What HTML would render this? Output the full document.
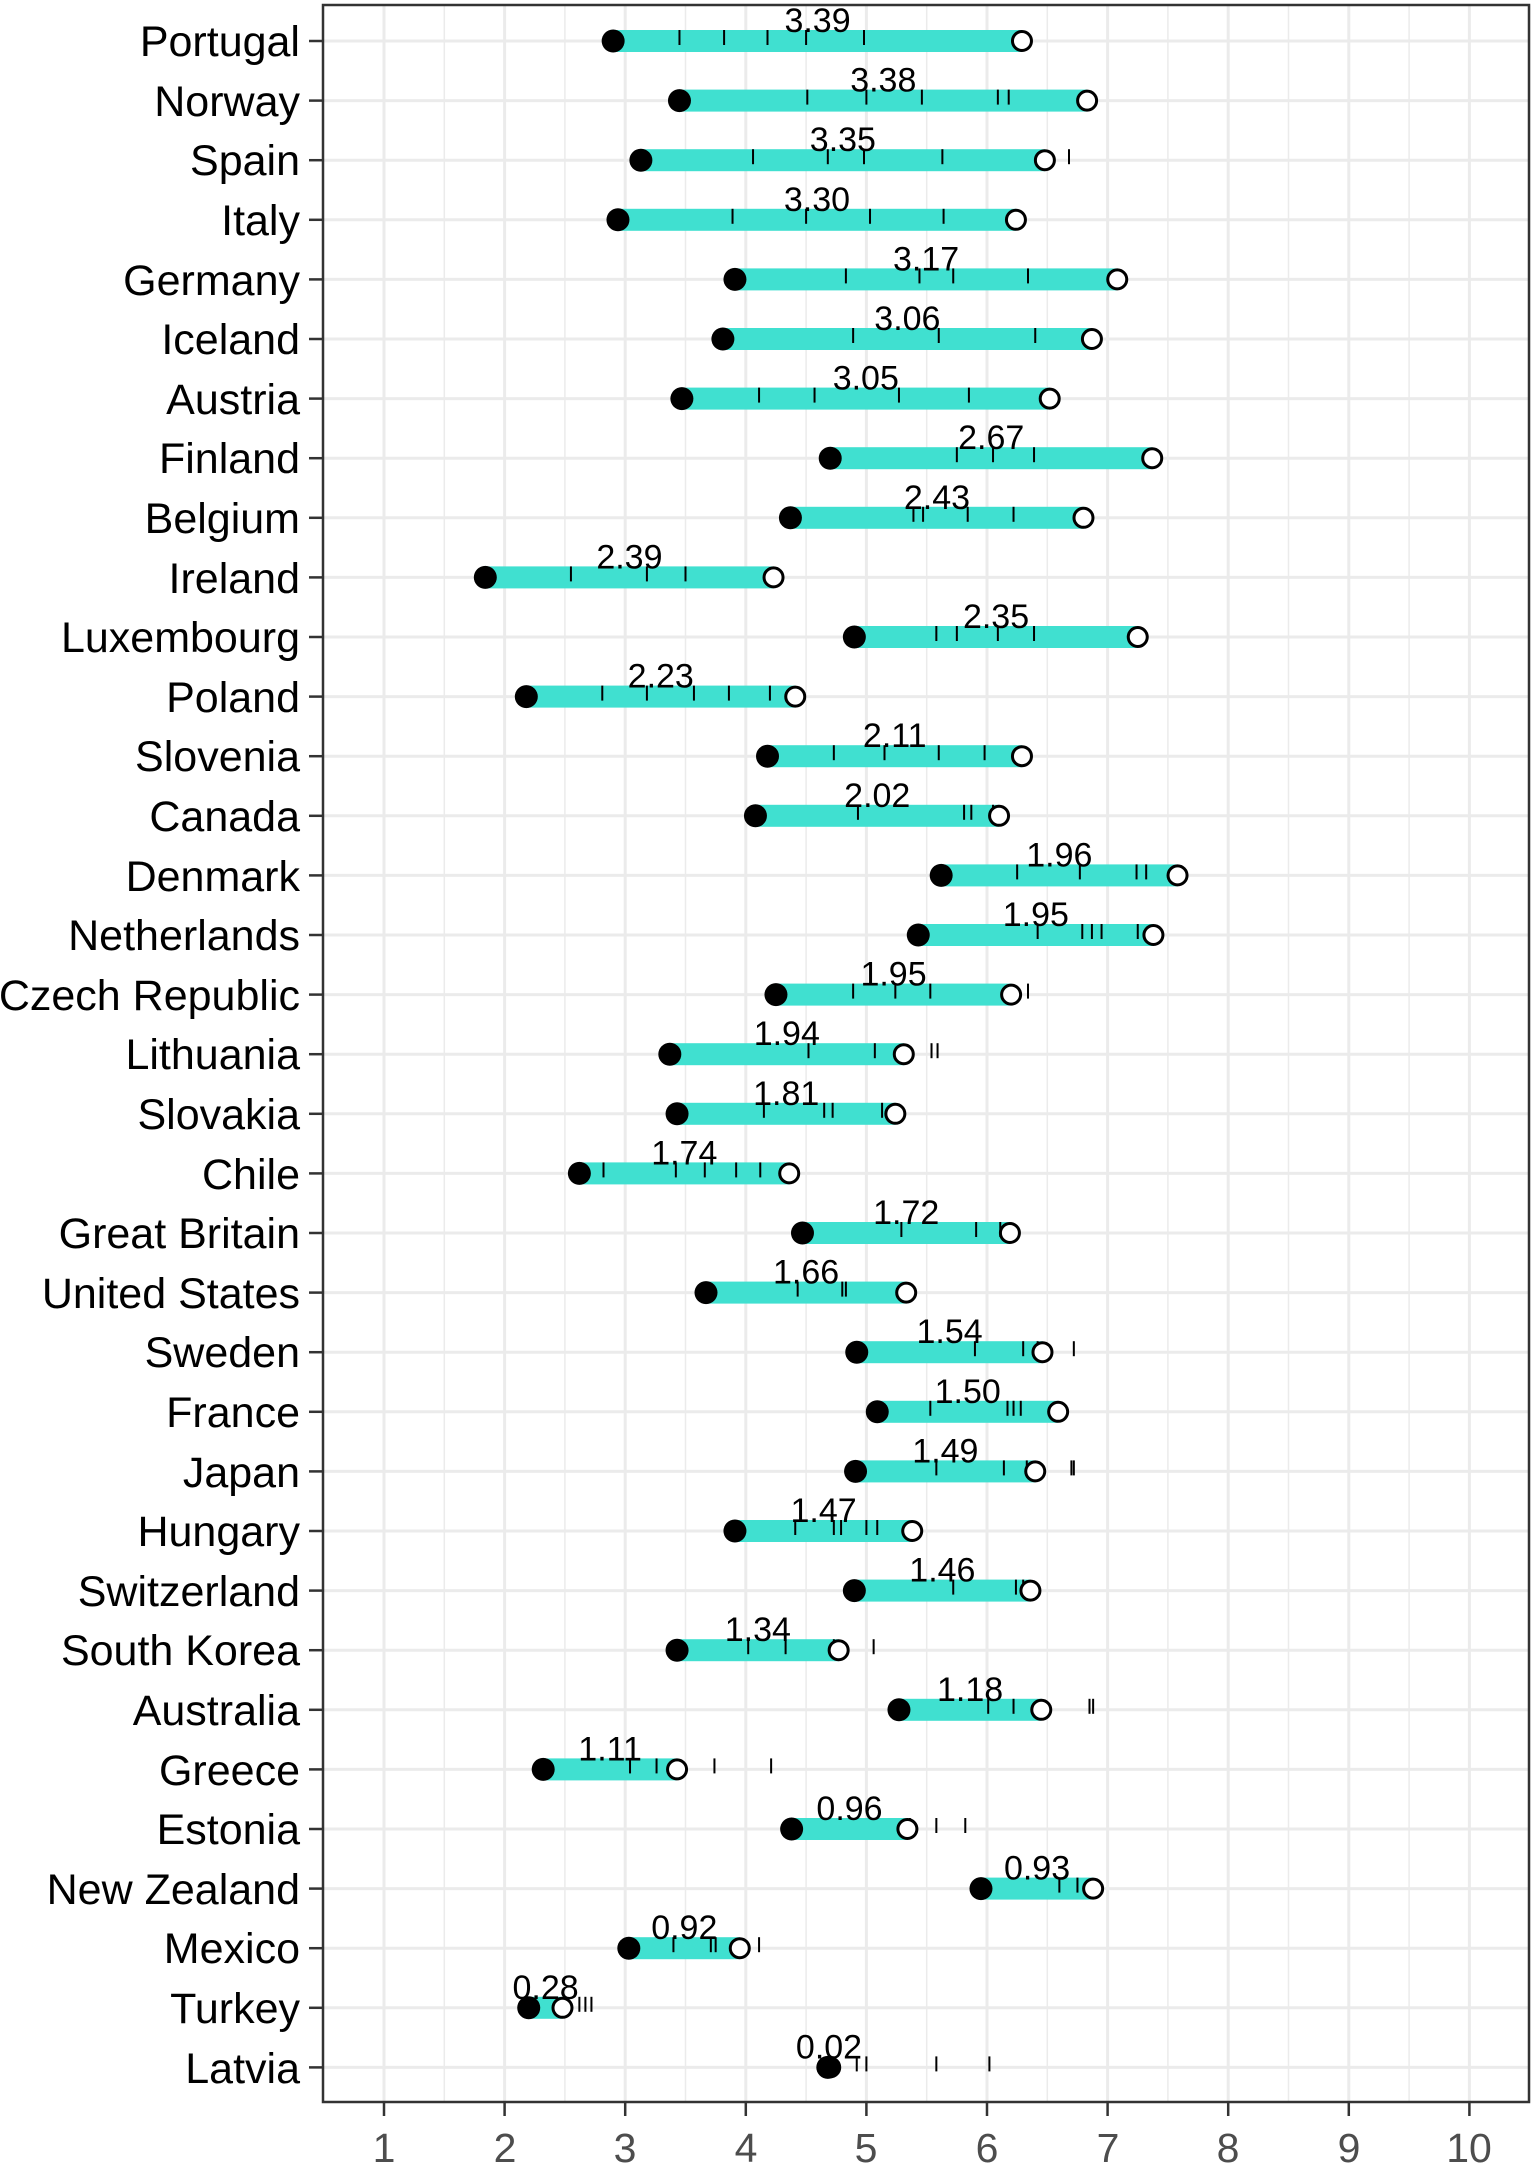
<!DOCTYPE html>
<html><head><meta charset="utf-8"><style>
html,body{margin:0;padding:0;background:#fff}
svg{display:block}
text{font-family:"Liberation Sans",Arial,sans-serif}
</style></head><body>
<svg id="s" width="1535" height="2167" xmlns="http://www.w3.org/2000/svg">
<rect width="1535" height="2167" fill="#fff"/>
<g id="grid"></g>
<g id="data"></g>
<rect x="323" y="5" width="1206" height="2097" fill="none" stroke="#333" stroke-width="2.5"/>
<g id="ticks"></g>
<g font-size="43" fill="#000" text-anchor="end">
<text x="300" y="56">Portugal</text>
<text x="300" y="116">Norway</text>
<text x="300" y="175">Spain</text>
<text x="300" y="235">Italy</text>
<text x="300" y="295">Germany</text>
<text x="300" y="354">Iceland</text>
<text x="300" y="414">Austria</text>
<text x="300" y="473">Finland</text>
<text x="300" y="533">Belgium</text>
<text x="300" y="593">Ireland</text>
<text x="300" y="652">Luxembourg</text>
<text x="300" y="712">Poland</text>
<text x="300" y="771">Slovenia</text>
<text x="300" y="831">Canada</text>
<text x="300" y="891">Denmark</text>
<text x="300" y="950">Netherlands</text>
<text x="300" y="1010">Czech Republic</text>
<text x="300" y="1069">Lithuania</text>
<text x="300" y="1129">Slovakia</text>
<text x="300" y="1189">Chile</text>
<text x="300" y="1248">Great Britain</text>
<text x="300" y="1308">United States</text>
<text x="300" y="1367">Sweden</text>
<text x="300" y="1427">France</text>
<text x="300" y="1487">Japan</text>
<text x="300" y="1546">Hungary</text>
<text x="300" y="1606">Switzerland</text>
<text x="300" y="1665">South Korea</text>
<text x="300" y="1725">Australia</text>
<text x="300" y="1785">Greece</text>
<text x="300" y="1844">Estonia</text>
<text x="300" y="1904">New Zealand</text>
<text x="300" y="1963">Mexico</text>
<text x="300" y="2023">Turkey</text>
<text x="300" y="2083">Latvia</text>
</g>
<g font-size="41" fill="#4d4d4d" text-anchor="middle">
<text x="384" y="2162">1</text>
<text x="505" y="2162">2</text>
<text x="625" y="2162">3</text>
<text x="746" y="2162">4</text>
<text x="866" y="2162">5</text>
<text x="987" y="2162">6</text>
<text x="1108" y="2162">7</text>
<text x="1228" y="2162">8</text>
<text x="1349" y="2162">9</text>
<text x="1469" y="2162">10</text>
</g>
<g id="labels" font-size="34" fill="#000" text-anchor="middle">
<text x="0" y="0">3.39</text><text>3.38</text><text>3.35</text><text>3.30</text><text>3.17</text><text>3.06</text><text>3.05</text><text>2.67</text><text>2.43</text><text>2.39</text><text>2.35</text><text>2.23</text><text>2.11</text><text>2.02</text><text>1.96</text><text>1.95</text><text>1.95</text><text>1.94</text><text>1.81</text><text>1.74</text><text>1.72</text><text>1.66</text><text>1.54</text><text>1.50</text><text>1.49</text><text>1.47</text><text>1.46</text><text>1.34</text><text>1.18</text><text>1.11</text><text>0.96</text><text>0.93</text><text>0.92</text><text>0.28</text><text>0.02</text>
</g>
</svg>
<script>
var NS="http://www.w3.org/2000/svg";
function X(v){return 384+(v-1)*120.6}
function Y(i){return 41+i*59.6}
function el(p,t,a){var e=document.createElementNS(NS,t);for(var k in a)e.setAttribute(k,a[k]);p.appendChild(e);return e}
var D=[
[2.90,3.39,[3.45,3.82,4.18,4.50,4.98]],
[3.45,3.38,[4.51,5.00,5.46,6.09,6.18]],
[3.13,3.35,[4.06,4.68,4.98,5.63,6.68]],
[2.94,3.30,[3.89,4.50,5.03,5.64]],
[3.91,3.17,[4.83,5.44,5.72,6.34]],
[3.81,3.06,[4.89,5.60,6.40]],
[3.47,3.05,[4.11,4.57,5.27,5.85]],
[4.70,2.67,[5.75,6.05,6.39]],
[4.37,2.43,[5.39,5.47,5.84,6.22]],
[1.84,2.39,[2.55,3.18,3.50]],
[4.90,2.35,[5.58,5.75,6.09,6.39]],
[2.18,2.23,[2.81,3.18,3.57,3.86,4.20]],
[4.18,2.11,[4.73,5.15,5.60,5.98]],
[4.08,2.02,[4.93,5.81,5.87,6.05]],
[5.62,1.96,[6.25,6.77,7.24,7.32]],
[5.43,1.95,[6.42,6.79,6.87,6.95,7.25]],
[4.25,1.95,[4.89,5.24,5.53,6.34]],
[3.37,1.94,[4.52,5.07,5.54,5.59]],
[3.43,1.81,[4.15,4.65,4.72,5.13]],
[2.62,1.74,[2.82,3.42,3.66,3.92,4.12]],
[4.47,1.72,[5.29,5.91,6.11]],
[3.67,1.66,[4.43,4.80,4.83]],
[4.92,1.54,[5.90,6.30,6.42,6.72]],
[5.09,1.50,[5.53,6.17,6.22,6.28]],
[4.91,1.49,[5.58,6.14,6.33,6.70,6.72]],
[3.91,1.47,[4.41,4.73,4.79,5.00,5.09]],
[4.90,1.46,[5.72,6.24,6.30]],
[3.43,1.34,[4.02,4.33,4.73,5.06]],
[5.27,1.18,[6.01,6.22,6.85,6.88]],
[2.32,1.11,[3.04,3.26,3.74,4.21]],
[4.38,0.96,[5.36,5.58,5.82]],
[5.95,0.93,[6.60,6.75]],
[3.03,0.92,[3.40,3.71,3.75,4.11]],
[2.20,0.28,[2.62,2.67,2.72]],
[4.68,0.02,[4.92,5.00,5.58,6.02]]];
var g=document.getElementById("grid"),d=document.getElementById("data"),tk=document.getElementById("ticks");
for(var v=1.5;v<=10.5;v+=1)el(g,"line",{x1:X(v),x2:X(v),y1:5,y2:2102,stroke:"#ebebeb","stroke-width":1.5});
for(var v=1;v<=10;v++){el(g,"line",{x1:X(v),x2:X(v),y1:5,y2:2102,stroke:"#ebebeb","stroke-width":3});
el(tk,"line",{x1:X(v),x2:X(v),y1:2102,y2:2116,stroke:"#333","stroke-width":2.5});}
var labs=document.getElementById("labels").children;
D.forEach(function(r,i){var y=Y(i);
el(g,"line",{x1:323,x2:1529,y1:y,y2:y,stroke:"#ebebeb","stroke-width":3});
el(tk,"line",{x1:309,x2:323,y1:y,y2:y,stroke:"#333","stroke-width":2.5});
var s=r[0],e=r[0]+r[1];
el(d,"rect",{x:X(s),y:y-11,width:X(e)-X(s),height:22,fill:"#40E0D0"});
r[2].forEach(function(t){el(d,"line",{x1:X(t),x2:X(t),y1:y-11,y2:y+4,stroke:"#000","stroke-width":2})});
el(d,"circle",{cx:X(e),cy:y,r:9.5,fill:"#fff",stroke:"#000","stroke-width":3});
el(d,"circle",{cx:X(s),cy:y,r:11.5,fill:"#000"});
labs[i].setAttribute("x",(X(s)+X(e))/2);labs[i].setAttribute("y",y-9);
});
</script>
</body></html>
